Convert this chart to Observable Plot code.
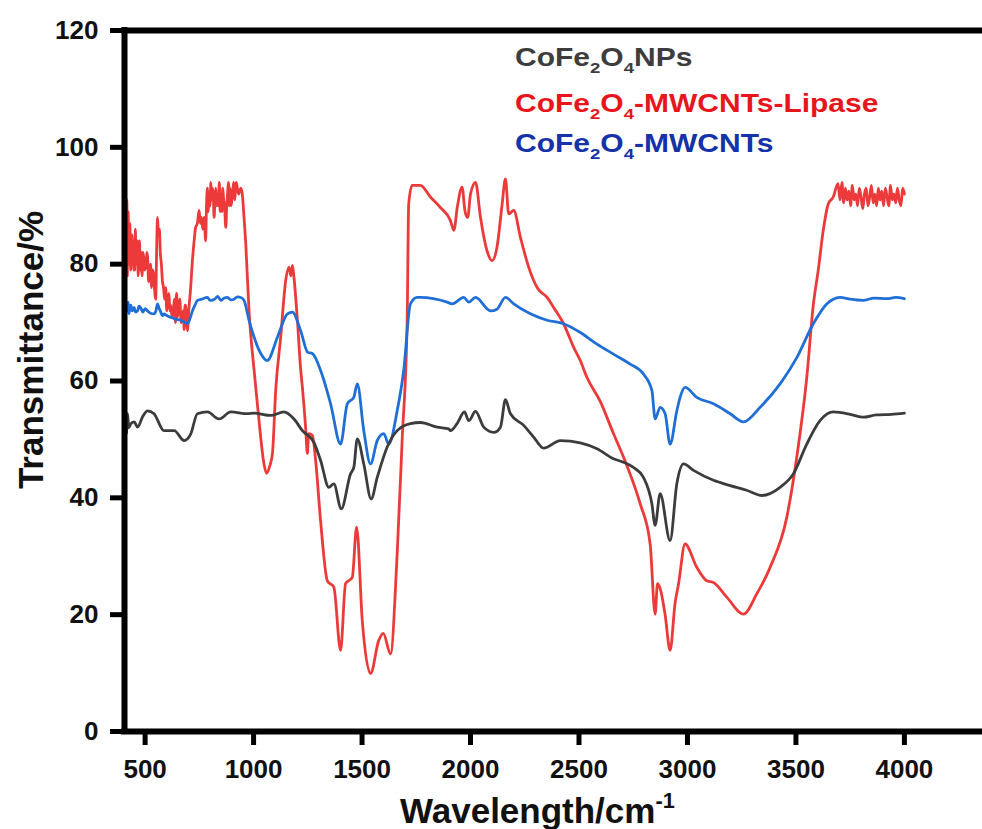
<!DOCTYPE html>
<html><head><meta charset="utf-8">
<script src="https://cdn.jsdelivr.net/npm/d3@7"></script>
<script src="https://cdn.jsdelivr.net/npm/@observablehq/plot@0.6"></script>
<style>
html,body{margin:0;padding:0;background:#fff;}
</style>
</head><body><div id="chart"></div>
<script>
// Series: CoFe2O4NPs (gray)
const npsWn = [400,403,406,410,414,419,425,434,450,465,490,511,541,587,634,680,710,741,787,841,895,971,1002,1079,1140,1186,1225,1278,1309,1347,1370,1404,1447,1462,1478,1508,1542,1570,1616,1662,1723,1769,1846,1900,1907,1938,1972,1992,2023,2061,2107,2138,2161,2184,2245,2291,2337,2414,2506,2583,2659,2705,2751,2797,2836,2851,2874,2920,2951,2982,3028,3120,3197,3273,3343,3427,3488,3550,3611,3672,3750,3810,3870,3940,4000];
const npsT  = [50,53.2,50.5,54,51,54.4,52,52.7,53,52.1,54,54.9,54.4,51.5,51.5,49.8,50.9,54.4,54.7,53.5,54.7,54.4,54.5,54.1,54.7,53.5,51.5,49.5,46.4,41.8,42.4,38.1,44.1,45.2,50.1,45.8,39.8,43.5,48.7,51.5,52.7,52.9,52.1,51.8,51.5,52.7,54.7,53.2,54.8,52.1,51.2,52.1,56.8,54.4,52.4,50.4,48.5,49.8,49.4,48.4,46.7,46.1,45.2,43.5,39,35.3,40.7,32.7,42.4,45.8,44.7,43,42.1,41.3,40.4,41.8,44.1,49.2,53.2,54.7,54.3,53.8,54.2,54.3,54.5];

// Series: CoFe2O4-MWCNTs-Lipase (red)
const lipWn = [400,403,406,408,410,412,414,416,418,420,422,424,426,428,430,432,434,436,438,440,442,444,446,448,450,453,455,458,460,463,465,468,470,474,478,482,486,490,494,498,505,508,512,516,520,525,530,535,540,545,549,553,557,562,566,570,575,580,585,590,595,600,605,610,614,618,624,630,635,640,645,650,655,660,666,672,676,680,684,687,691,695,701,710,718,726,733,741,749,755,760,766,772,779,783,787,791,795,799,803,807,810,814,818,822,826,830,834,838,842,846,850,854,858,862,866,872,876,880,884,888,892,896,900,905,909,913,917,920,925,931,936,941,948,956,964,979,994,1002,1025,1048,1060,1075,1087,1102,1125,1148,1163,1172,1179,1186,1202,1217,1225,1240,1248,1254,1271,1286,1309,1340,1370,1401,1424,1455,1475,1501,1539,1577,1598,1631,1662,1685,1708,1715,1731,1769,1815,1861,1907,1923,1940,1961,1975,1987,2000,2023,2046,2076,2099,2122,2145,2161,2176,2199,2230,2268,2307,2353,2383,2429,2475,2506,2537,2598,2659,2705,2721,2782,2828,2851,2862,2874,2897,2920,2943,2959,2989,3043,3089,3120,3181,3258,3320,3381,3458,3504,3550,3580,3603,3626,3649,3672,3694,3703,3712,3720,3728,3736,3744,3752,3760,3768,3776,3784,3792,3800,3808,3816,3824,3832,3840,3848,3856,3864,3872,3880,3888,3896,3904,3912,3920,3928,3936,3944,3952,3960,3968,3976,3984,3992,4000];
const lipT  = [88,91,84,92,80,90,82,91,78,86,89,80,85,80,87,81,79,85,82,85,80,83,84,79,83,79,86,80,84,80,84,78,80,84,79,82,78,82,81,79,80,82,81,77,78,80,76,79,78,75,74,82,88,85,86,82,80,77,76,74,76,72,74,75,72,73,71,72,74,70,75,71,73,74,70,71,72,68.8,73,73,71,68.6,72,76,80.6,84,86.3,87,89.2,87,88,86,88,84,90,93,89,92,90,94,91,93,92,88,91,93,90,92,90,94,89,92,89,93,91,90,86.3,90,92,94,90,93,90,91,93,94,91,93,94,93,92,92.5,93,92,88,83.5,72,65,62,53.2,45.8,44.2,45.5,47.6,58.4,67.5,77.2,79.5,78,79.8,77.8,70.4,62,58.9,52,47.6,51,50.7,46.4,36,25.8,24.7,13.9,25.3,26.4,35,19,9.9,15.6,16.8,13.3,30.5,50,70.4,90.3,93.5,93.5,91.5,89.7,87.5,85.8,90,93.2,89,88,92,94,88,82.3,80.6,82.9,90,94.6,88.6,89.2,84.6,79.5,76,74.3,72.6,69.8,65.8,63.5,60.6,56.5,51,47,45.5,39,32.1,20.1,25.3,24.5,20,13.9,22,25.3,32.1,28.1,25.8,25.5,23,20.1,23.6,28.1,36.7,47,60.6,73,79,85.8,90.3,91.5,93.8,91,94,90.5,93,91,92.5,90,93.5,91,92,90,93,91.5,89.5,92,93,90,91.5,93.5,90.5,92,90,93,91,92.5,90,93,91.5,90,93.5,91,92,90.5,93,91,90,93,92];

// Series: CoFe2O4-MWCNTs (blue)
const cntWn = [400,404,408,412,416,419,422,426,430,434,440,449,456,465,472,480,490,500,511,525,541,550,557,564,570,580,587,600,618,640,664,680,695,705,718,730,741,760,787,800,820,835,849,865,880,895,910,925,941,956,979,1033,1063,1110,1156,1179,1217,1250,1271,1309,1355,1401,1432,1462,1478,1508,1539,1570,1600,1623,1662,1692,1723,1754,1769,1892,1915,1969,1992,2023,2092,2122,2161,2199,2276,2353,2429,2506,2583,2659,2736,2797,2836,2851,2874,2897,2920,2951,2966,2989,3043,3120,3197,3258,3335,3427,3504,3580,3642,3672,3703,3750,3810,3860,3920,3960,4000];
const cntT  = [74.3,72,74,71.5,73,72.3,73.5,71.5,72.8,73,72,72.6,71.8,72,72.8,72.5,71.8,72.4,72,71.6,71.5,72,73.2,72.5,72,71.2,71.5,71.2,70.9,70.6,70.4,70.1,69.8,70.5,72,73,73.8,74,74.3,73.8,74,74.5,73.8,74.2,74.3,73.9,74,74.4,74.3,73.8,70.4,64.7,63.5,67.5,71.5,71.8,68.6,64.9,64.7,61.8,56.1,49.2,56.1,57.2,59.5,51.5,45.8,49.8,51,49.2,54.9,61.8,73.2,74.3,74.3,73.5,73.2,74.3,73.5,74.3,72,72.3,74.3,73.2,71.5,70.4,69.8,68.3,66.3,64.6,62.9,61.2,58.4,53.5,55.5,54.4,49.2,54.9,57.2,58.9,57.2,56.1,54.4,53,55.5,59.5,64,69.8,73.2,74,74.3,74,73.8,74.2,74.1,74.3,74.1];

const xTicks = [500,1000,1500,2000,2500,3000,3500,4000];
const yTicks = [0,20,40,60,80,100,120];
const xDomain = [405, 4360];
const yDomain = [0, 120];

const rows = (wn, t) => wn.map((w, i) => ({wn: w, t: t[i]}));
const nps = rows(npsWn, npsT);
const lip = rows(lipWn, lipT);
const cnt = rows(cntWn, cntT);

const FONT = "'Liberation Sans', Arial, Helvetica, sans-serif";

const chart = Plot.plot({
  width: 982, height: 829,
  marginLeft: 124, marginRight: 0, marginTop: 30, marginBottom: 98,
  style: {fontFamily: FONT, fontSize: "26px", fontWeight: "bold", color: "#000", background: "#fff", overflow: "visible"},
  x: {domain: xDomain},
  y: {domain: yDomain},
  marks: [
    Plot.line(lip, {x: "wn", y: "t", stroke: "#ec3a3a", strokeWidth: 2.8, curve: "monotone-x"}),
    Plot.line(cnt, {x: "wn", y: "t", stroke: "#1f6fd6", strokeWidth: 2.8, curve: "monotone-x"}),
    Plot.line(nps, {x: "wn", y: "t", stroke: "#3c3c3c", strokeWidth: 2.8, curve: "monotone-x"}),
    Plot.ruleX([xDomain[0]], {stroke: "#000", strokeWidth: 6, strokeLinecap: "square"}),
    Plot.ruleY([yDomain[0], yDomain[1]], {stroke: "#000", strokeWidth: 6, strokeLinecap: "square"}),
    Plot.axisX({ticks: xTicks, tickSize: 14, tickPadding: 14, strokeWidth: 5, tickFormat: "d", label: null, fill: "#111"}),
    Plot.axisY({ticks: yTicks, tickSize: 14, tickPadding: 12, strokeWidth: 5, tickFormat: "d", label: null, fill: "#111"})
  ]
});
document.getElementById("chart").appendChild(chart);

const svg = d3.select(chart);

function richText(parent, parts, size, anchor) {
  const t = parent.append("text")
    .attr("font-family", FONT).attr("font-weight", "bold").attr("font-size", size)
    .attr("text-anchor", anchor || "start");
  let shift = 0;
  for (const [s, kind] of parts) {
    const sp = t.append("tspan").text(s);
    let target = 0, fs = size;
    if (kind === "sub") { target = size * 0.28; fs = size * 0.62; }
    if (kind === "sup") { target = -size * 0.42; fs = size * 0.62; }
    sp.attr("font-size", fs).attr("dy", target - shift);
    shift = target;
  }
  return t;
}

// Axis titles
const yt = svg.append("g").attr("transform", "translate(43,350) rotate(-90)");
richText(yt, [["Transmittance/%", "n"]], 35, "middle").attr("fill", "#111");

const xt = svg.append("g").attr("transform", "translate(400,823)");
richText(xt, [["Wavelength/cm", "n"], ["-1", "sup"]], 35, "start").attr("fill", "#111");

// Legend
const legendRows = [
  {parts: [["CoFe", "n"], ["2", "sub"], ["O", "n"], ["4", "sub"], ["NPs", "n"]], color: "#3d3d3d", y: 66},
  {parts: [["CoFe", "n"], ["2", "sub"], ["O", "n"], ["4", "sub"], ["-MWCNTs-Lipase", "n"]], color: "#e8161c", y: 112},
  {parts: [["CoFe", "n"], ["2", "sub"], ["O", "n"], ["4", "sub"], ["-MWCNTs", "n"]], color: "#1532a8", y: 152}
];
for (const r of legendRows) {
  const g = svg.append("g").attr("transform", `translate(515,${r.y}) scale(1.2,1)`);
  richText(g, r.parts, 25, "start").attr("fill", r.color);
}
</script>
</body></html>
